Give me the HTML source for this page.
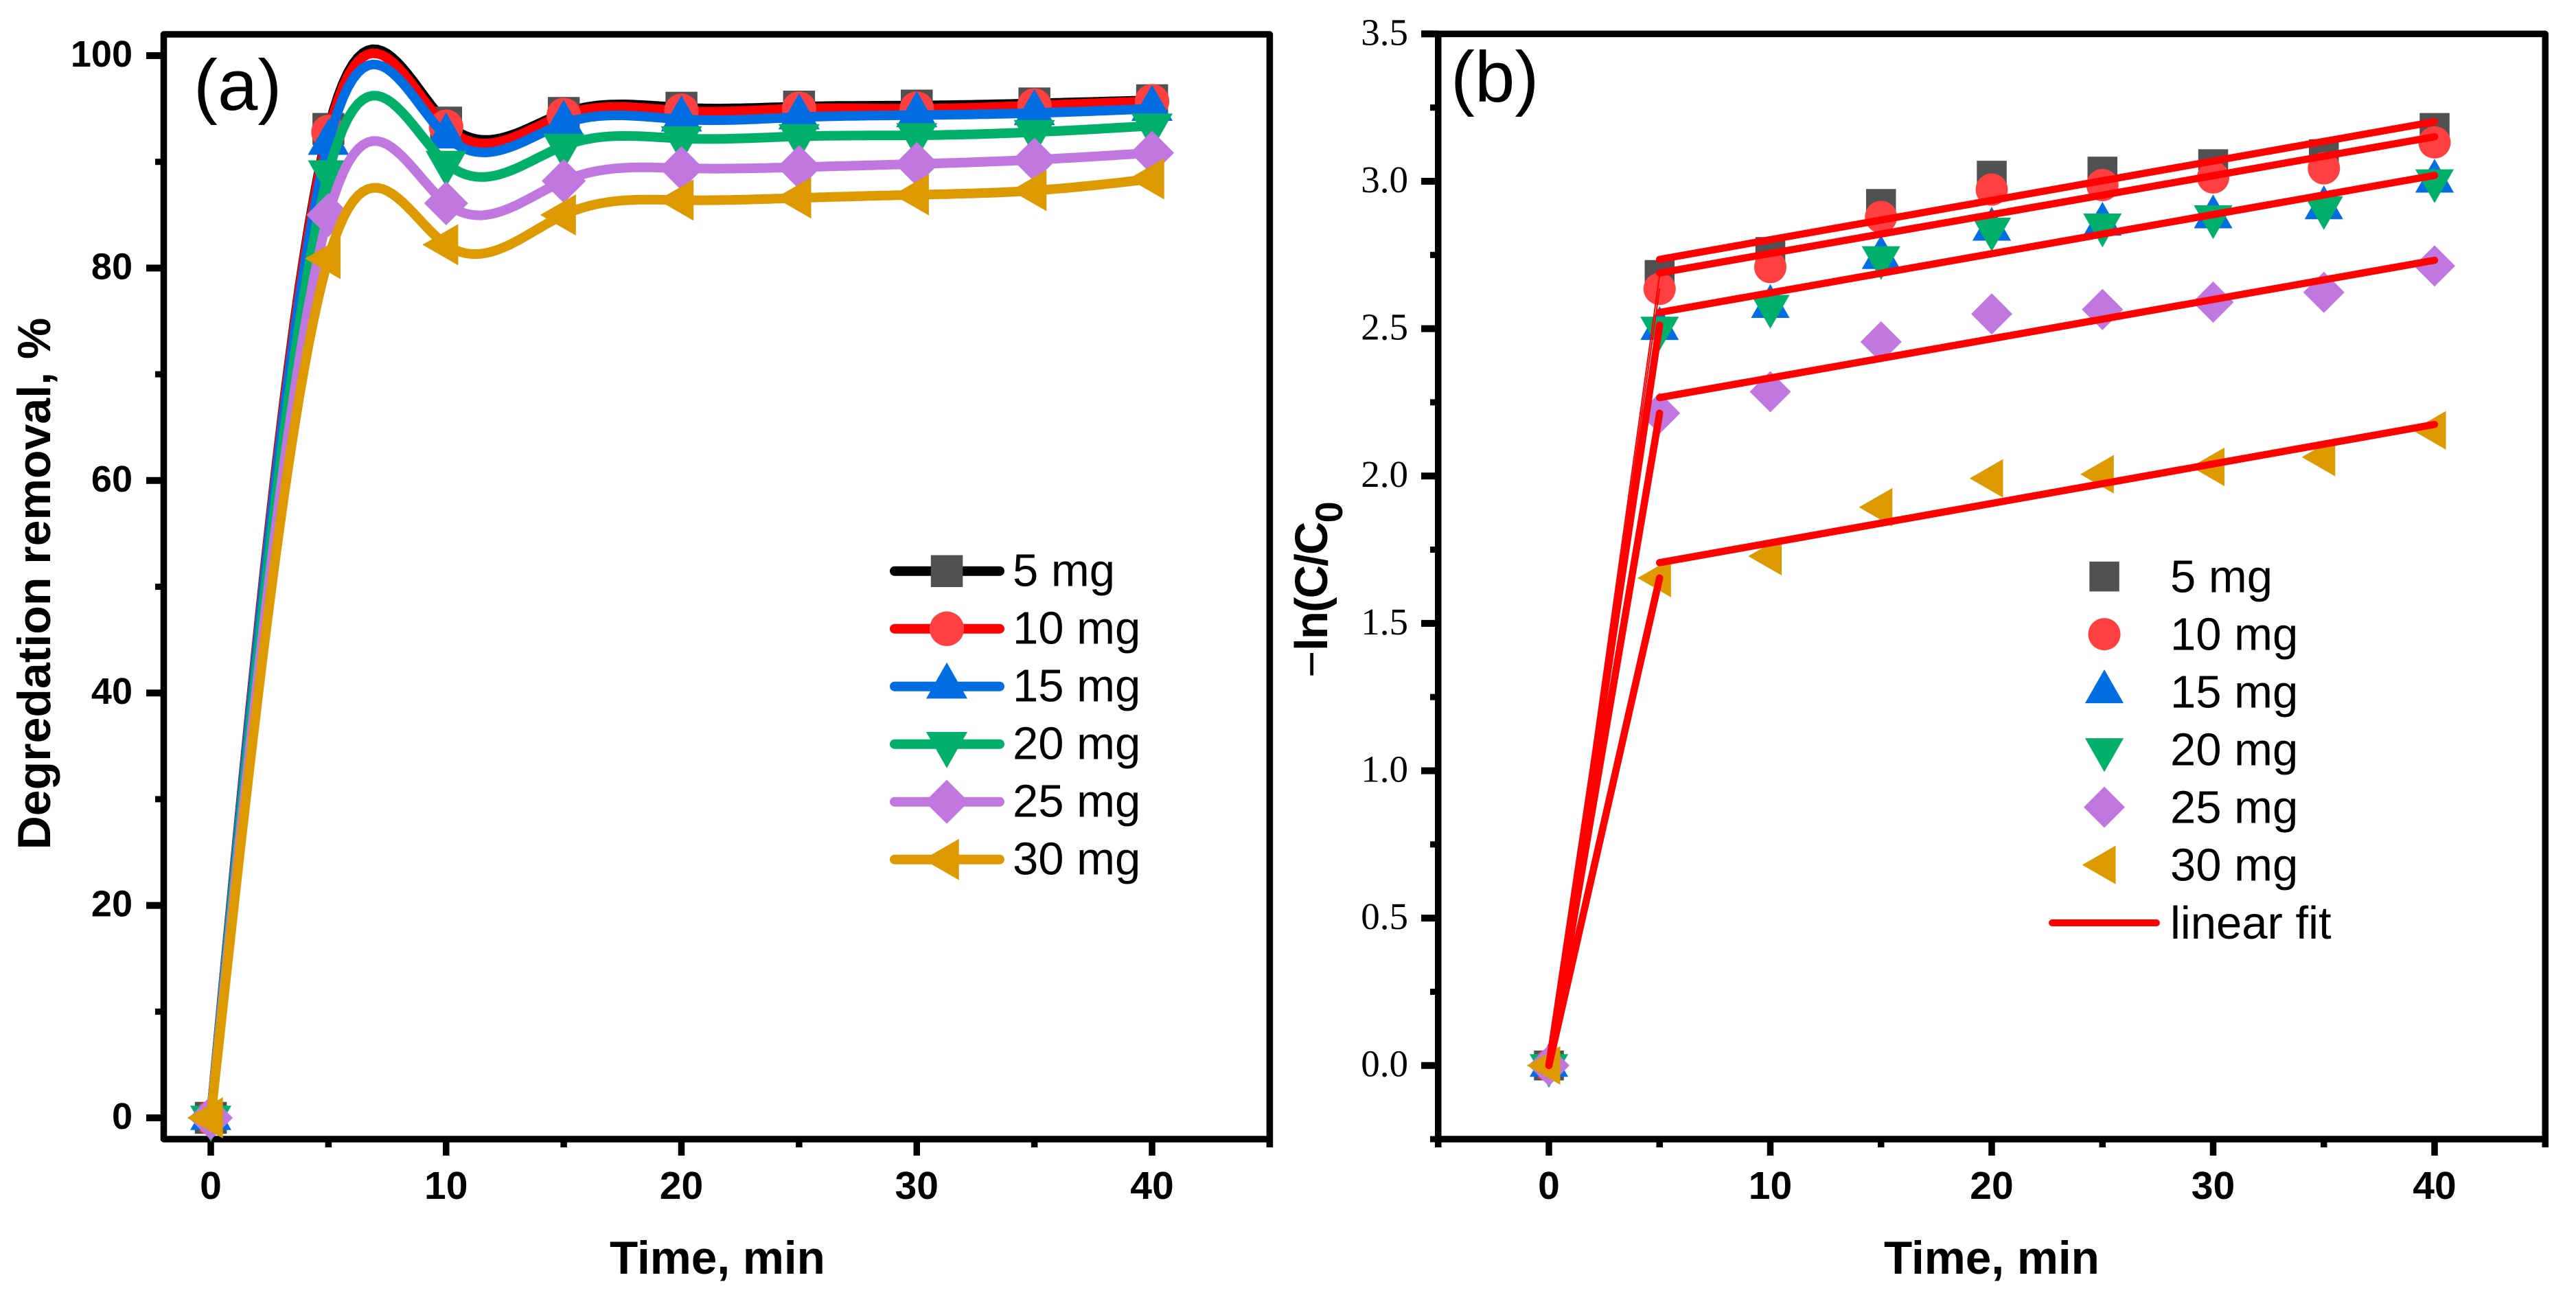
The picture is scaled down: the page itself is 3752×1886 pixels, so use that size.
<!DOCTYPE html>
<html lang="en">
<head>
<meta charset="utf-8">
<title>Degradation removal and kinetics charts</title>
<style>
html,body{margin:0;padding:0;background:#fff;}
svg{display:block;}
text{font-family:"Liberation Sans",sans-serif;fill:#000;}
.serif{font-family:"Liberation Serif",serif;}
</style>
</head>
<body>
<svg id="figure" xmlns="http://www.w3.org/2000/svg" width="3752" height="1886" viewBox="0 0 3752 1886">
  <rect width="3752" height="1886" fill="#ffffff"/>
  <g id="panelA"></g>
  <g id="panelB"></g>
  <text x="282" y="160" font-size="105">(a)</text>
  <text x="2113" y="148" font-size="105">(b)</text>
  <text x="888" y="1855" font-size="67.5" font-weight="bold">Time, min</text>
  <text x="2744" y="1855" font-size="67.5" font-weight="bold">Time, min</text>
  <text transform="translate(73,850) rotate(-90)" text-anchor="middle" font-size="68" font-weight="bold">Degredation removal, %</text>
  <g transform="translate(1933,987) rotate(-90)">
    <text x="0" y="0" font-size="67">−<tspan font-weight="bold" letter-spacing="-1.8">ln(C/C</tspan><tspan font-weight="bold" font-size="56" dy="22">0</tspan></text>
  </g>
</svg>
<script>
// ---- shared categories ----
const times = [0, 5, 10, 15, 20, 25, 30, 35, 40];
const seriesLabels = ['5 mg', '10 mg', '15 mg', '20 mg', '25 mg', '30 mg'];

// ---- panel (a): degradation removal, % ----
const removal5mg  = [0, 93.1, 93.7, 94.6, 95.1, 95.2, 95.3, 95.5, 95.8];
const removal10mg = [0, 92.8, 93.3, 94.4, 94.8, 95.0, 95.0, 95.3, 95.7];
const removal15mg = [0, 91.8, 92.4, 93.6, 94.0, 94.2, 94.4, 94.6, 95.0];
const removal20mg = [0, 89.0, 89.9, 91.5, 92.2, 92.4, 92.5, 92.8, 93.4];
const removal25mg = [0, 85.0, 86.1, 88.2, 89.4, 89.5, 89.8, 90.2, 90.85];
const removal30mg = [0, 80.9, 82.2, 85.0, 86.4, 86.6, 86.9, 87.3, 88.4];

// ---- panel (b): -ln(C/C0) ----
const rate5mg  = [0, 2.682, 2.76, 2.923, 3.019, 3.033, 3.058, 3.092, 3.181];
const rate10mg = [0, 2.635, 2.709, 2.879, 2.972, 2.987, 3.013, 3.044, 3.132];
const rate15mg = [0, 2.50, 2.575, 2.741, 2.837, 2.854, 2.879, 2.910, 3.000];
const rate20mg = [0, 2.502, 2.576, 2.741, 2.838, 2.852, 2.880, 2.911, 3.002];
const rate25mg = [0, 2.213, 2.286, 2.455, 2.55, 2.565, 2.59, 2.623, 2.713];
const rate30mg = [0, 1.654, 1.728, 1.894, 1.992, 2.006, 2.031, 2.064, 2.155];

// ---- linear fits in panel (b): value at t=0 rises to riseEnd at t=5; then fitStart..fitEnd to t=40 ----
const fitRiseEnd = [2.682, 2.635, 2.512, 2.213, 1.654];
const fitStart   = [2.735, 2.689, 2.555, 2.266, 1.706];
const fitEnd     = [3.202, 3.151, 3.020, 2.732, 2.175];
const fitBreak = 5;
const fitLast = 40;

// ---- tick labels ----
const xTickLabels = [0, 10, 20, 30, 40];
const xMinorA = [5, 15, 25, 35, 45];
const xMinorB = [-5, 5, 15, 25, 35, 45];
const yTickLabelsA = [0, 20, 40, 60, 80, 100];
const yMinorA = [10, 30, 50, 70, 90];
const yTickLabelsB = ['0.0', '0.5', '1.0', '1.5', '2.0', '2.5', '3.0', '3.5'];
const yMinorB = [-0.25, 0.25, 0.75, 1.25, 1.75, 2.25, 2.75, 3.25];

// ---- styles ----
const lineColors = ['#000000', '#ff0000', '#006ee2', '#00b06a', '#c077e0', '#dd9900'];
const markerColors = ['#515151', '#ff4040', '#006ee2', '#00b06a', '#c077e0', '#dd9900'];
const markerKinds = ['square', 'circle', 'up', 'down', 'diamond', 'left'];
const FIT_RED = '#ff0000';

// ---- axis functions ----
function linear(d0, d1, r0, r1) {
  return function (v) { return r0 + (v - d0) * (r1 - r0) / (d1 - d0); };
}
const xA = linear(0, 40, 307, 1678);
const yA = linear(0, 100, 1628, 81);
const xB = linear(0, 40, 2256, 3546);
const yB = linear(0, 3, 1551.7, 264);

const NS = 'http://www.w3.org/2000/svg';
function make(tag, attrs, parent) {
  const el = document.createElementNS(NS, tag);
  for (const k in attrs) el.setAttribute(k, attrs[k]);
  parent.appendChild(el);
  return el;
}
function markerPath(kind, cx, cy, s) {
  const P = function (pts) {
    return 'M' + pts.map(function (p) { return (cx + p[0] * s).toFixed(1) + ' ' + (cy + p[1] * s).toFixed(1); }).join('L') + 'Z';
  };
  if (kind === 'square') return P([[-0.5, -0.5], [0.5, -0.5], [0.5, 0.5], [-0.5, 0.5]]);
  if (kind === 'up') return P([[0, -0.75], [0.645, 0.38], [-0.645, 0.38]]);
  if (kind === 'down') return P([[0, 0.75], [0.645, -0.38], [-0.645, -0.38]]);
  if (kind === 'diamond') return P([[0, -0.69], [0.69, 0], [0, 0.69], [-0.69, 0]]);
  if (kind === 'left') return P([[-0.74, 0], [0.38, -0.645], [0.38, 0.645]]);
  const r = 0.54 * s;
  return 'M' + (cx - r) + ' ' + cy + 'a' + r + ' ' + r + ' 0 1 0 ' + (2 * r) + ' 0a' + r + ' ' + r + ' 0 1 0 ' + (-2 * r) + ' 0Z';
}
function drawMarker(parent, kind, color, cx, cy, s) {
  const el = make('path', { d: markerPath(kind, cx, cy, s), fill: color }, parent);
  return el;
}

// Natural cubic spline through the data; returns the path through those values
function splinePath(xs, ys, sx, sy) {
  const n = xs.length;
  const M = new Array(n).fill(0);
  const c = new Array(n).fill(0), d = new Array(n).fill(0);
  for (let i = 1; i < n - 1; i++) {
    const h0 = xs[i] - xs[i - 1], h1 = xs[i + 1] - xs[i];
    const rhs = 6 * ((ys[i + 1] - ys[i]) / h1 - (ys[i] - ys[i - 1]) / h0);
    const m = 2 * (h0 + h1) - h0 * c[i - 1];
    c[i] = h1 / m;
    d[i] = (rhs - h0 * d[i - 1]) / m;
  }
  for (let i = n - 2; i > 0; i--) M[i] = d[i] - c[i] * M[i + 1];
  let path = 'M' + sx(xs[0]).toFixed(1) + ' ' + sy(ys[0]).toFixed(1);
  for (let i = 0; i < n - 1; i++) {
    const h = xs[i + 1] - xs[i];
    for (let k = 1; k <= 24; k++) {
      const t = xs[i] + h * k / 24;
      const a = xs[i + 1] - t, b = t - xs[i];
      const v = M[i] * a * a * a / (6 * h) + M[i + 1] * b * b * b / (6 * h) +
        (ys[i] / h - M[i] * h / 6) * a + (ys[i + 1] / h - M[i + 1] * h / 6) * b;
      path += 'L' + sx(t).toFixed(1) + ' ' + sy(v).toFixed(1);
    }
  }
  return path;
}

function drawAxes(parent, sx, sy, box, xMajor, xMinor, yMajor, yMinor, opts) {
  const frame = make('rect', {
    x: box.x0, y: box.y1, width: box.x1 - box.x0, height: box.y0 - box.y1,
    fill: 'none', stroke: '#000', 'stroke-width': 9.5, 'stroke-linejoin': 'round'
  }, parent);
  
  

  xMajor.forEach(function (t) {
    const tick = make('line', { x1: sx(t), x2: sx(t), y1: box.y0, y2: 1683, stroke: '#000', 'stroke-width': 9.5 }, parent);
    
    
    const label = make('text', { x: sx(t), y: 1746, 'font-size': 57, 'font-weight': 'bold', 'text-anchor': 'middle' }, parent);
    
    
    label.textContent = String(t);
  });
  xMinor.forEach(function (t) {
    const tick = make('line', { x1: sx(t), x2: sx(t), y1: box.y0, y2: 1671, stroke: '#000', 'stroke-width': 9.5 }, parent);
    
    
  });
  yMajor.forEach(function (v) {
    const tick = make('line', { x1: opts.yMajorEnd, x2: box.x0, y1: sy(parseFloat(v)), y2: sy(parseFloat(v)), stroke: '#000', 'stroke-width': 10 }, parent);
    
    
    const label = make('text', { x: opts.labelRight, y: sy(parseFloat(v)) + 16, 'font-size': opts.labelSize, 'text-anchor': 'end' }, parent);
    if (opts.serif) label.setAttribute('class', 'serif');
    else label.setAttribute('font-weight', 'bold');
    
    
    label.textContent = String(v);
  });
  yMinor.forEach(function (v) {
    const tick = make('line', { x1: opts.yMinorEnd, x2: box.x0, y1: sy(v), y2: sy(v), stroke: '#000', 'stroke-width': 9 }, parent);
    
    
  });
}

// ---- panel (a) ----
const panelA = document.getElementById('panelA');
drawAxes(panelA, xA, yA, { x0: xA(-2), x1: xA(45), y0: yA(-2), y1: yA(102) },
  xTickLabels, xMinorA, yTickLabelsA, yMinorA,
  { yMajorEnd: 213, yMinorEnd: 226, labelRight: 193, labelSize: 54, serif: false });

const removalSeries = [removal5mg, removal10mg, removal15mg, removal20mg, removal25mg, removal30mg];
const SIZE_A = 46.5;
removalSeries.forEach(function (vals, i) {
  const g = make('g', {}, panelA);
  
  
  const line = make('path', {
    d: splinePath(times, vals, xA, yA), fill: 'none', stroke: lineColors[i],
    'stroke-width': 14, 'stroke-linejoin': 'round'
  }, g);
  
  
  vals.forEach(function (v, j) {
    const m = drawMarker(g, markerKinds[i], markerColors[i], xA(times[j]), yA(v), SIZE_A);
    
    
  });
});

seriesLabels.forEach(function (name, i) {
  const ly = 831.7 + i * 84;
  const g = make('g', {}, panelA);
  
  
  const l = make('line', { x1: 1303, x2: 1456, y1: ly, y2: ly, stroke: lineColors[i], 'stroke-width': 14, 'stroke-linecap': 'round' }, g);
  
  
  const m = drawMarker(g, markerKinds[i], markerColors[i], 1379, ly, SIZE_A);
  
  
  const t = make('text', { x: 1475, y: ly + 22, 'font-size': 67 }, g);
  
  
  t.textContent = name;
});

// ---- panel (b) ----
const panelB = document.getElementById('panelB');
drawAxes(panelB, xB, yB, { x0: xB(-5), x1: xB(45), y0: yB(-0.25), y1: yB(3.5) },
  xTickLabels, xMinorB, yTickLabelsB, yMinorB,
  { yMajorEnd: 2070, yMinorEnd: 2083, labelRight: 2051, labelSize: 55, serif: true });

const rateSeries = [rate5mg, rate10mg, rate15mg, rate20mg, rate25mg, rate30mg];
const SIZE_B = 43.5;
rateSeries.forEach(function (vals, i) {
  const g = make('g', {}, panelB);
  
  
  vals.forEach(function (v, j) {
    const m = drawMarker(g, markerKinds[i], markerColors[i], xB(times[j]), yB(v), SIZE_B);
    
    
  });
});

fitStart.forEach(function (s, i) {
  const g = make('g', {}, panelB);
  
  
  const rise = make('line', {
    x1: xB(0), y1: yB(0), x2: xB(fitBreak), y2: yB(fitRiseEnd[i]),
    stroke: FIT_RED, 'stroke-width': i < 2 ? 2 : 10.5, 'stroke-linecap': 'round'
  }, g);
  
  
  const slope = make('line', {
    x1: xB(fitBreak), y1: yB(s), x2: xB(fitLast), y2: yB(fitEnd[i]),
    stroke: FIT_RED, 'stroke-width': 10.5, 'stroke-linecap': 'round'
  }, g);
  
  
});

seriesLabels.forEach(function (name, i) {
  const ly = 839.6 + i * 84;
  const g = make('g', {}, panelB);
  
  
  const m = drawMarker(g, markerKinds[i], markerColors[i], 3065, ly, SIZE_B);
  
  
  const t = make('text', { x: 3161, y: ly + 22.8, 'font-size': 67 }, g);
  
  
  t.textContent = name;
});
const fitLegend = make('g', {}, panelB);


const fitLegendLine = make('line', { x1: 2989, x2: 3141, y1: 1344, y2: 1344, stroke: FIT_RED, 'stroke-width': 10, 'stroke-linecap': 'round' }, fitLegend);


const fitLegendText = make('text', { x: 3161, y: 1367, 'font-size': 67 }, fitLegend);


fitLegendText.textContent = 'linear fit';
</script>
</body>
</html>
